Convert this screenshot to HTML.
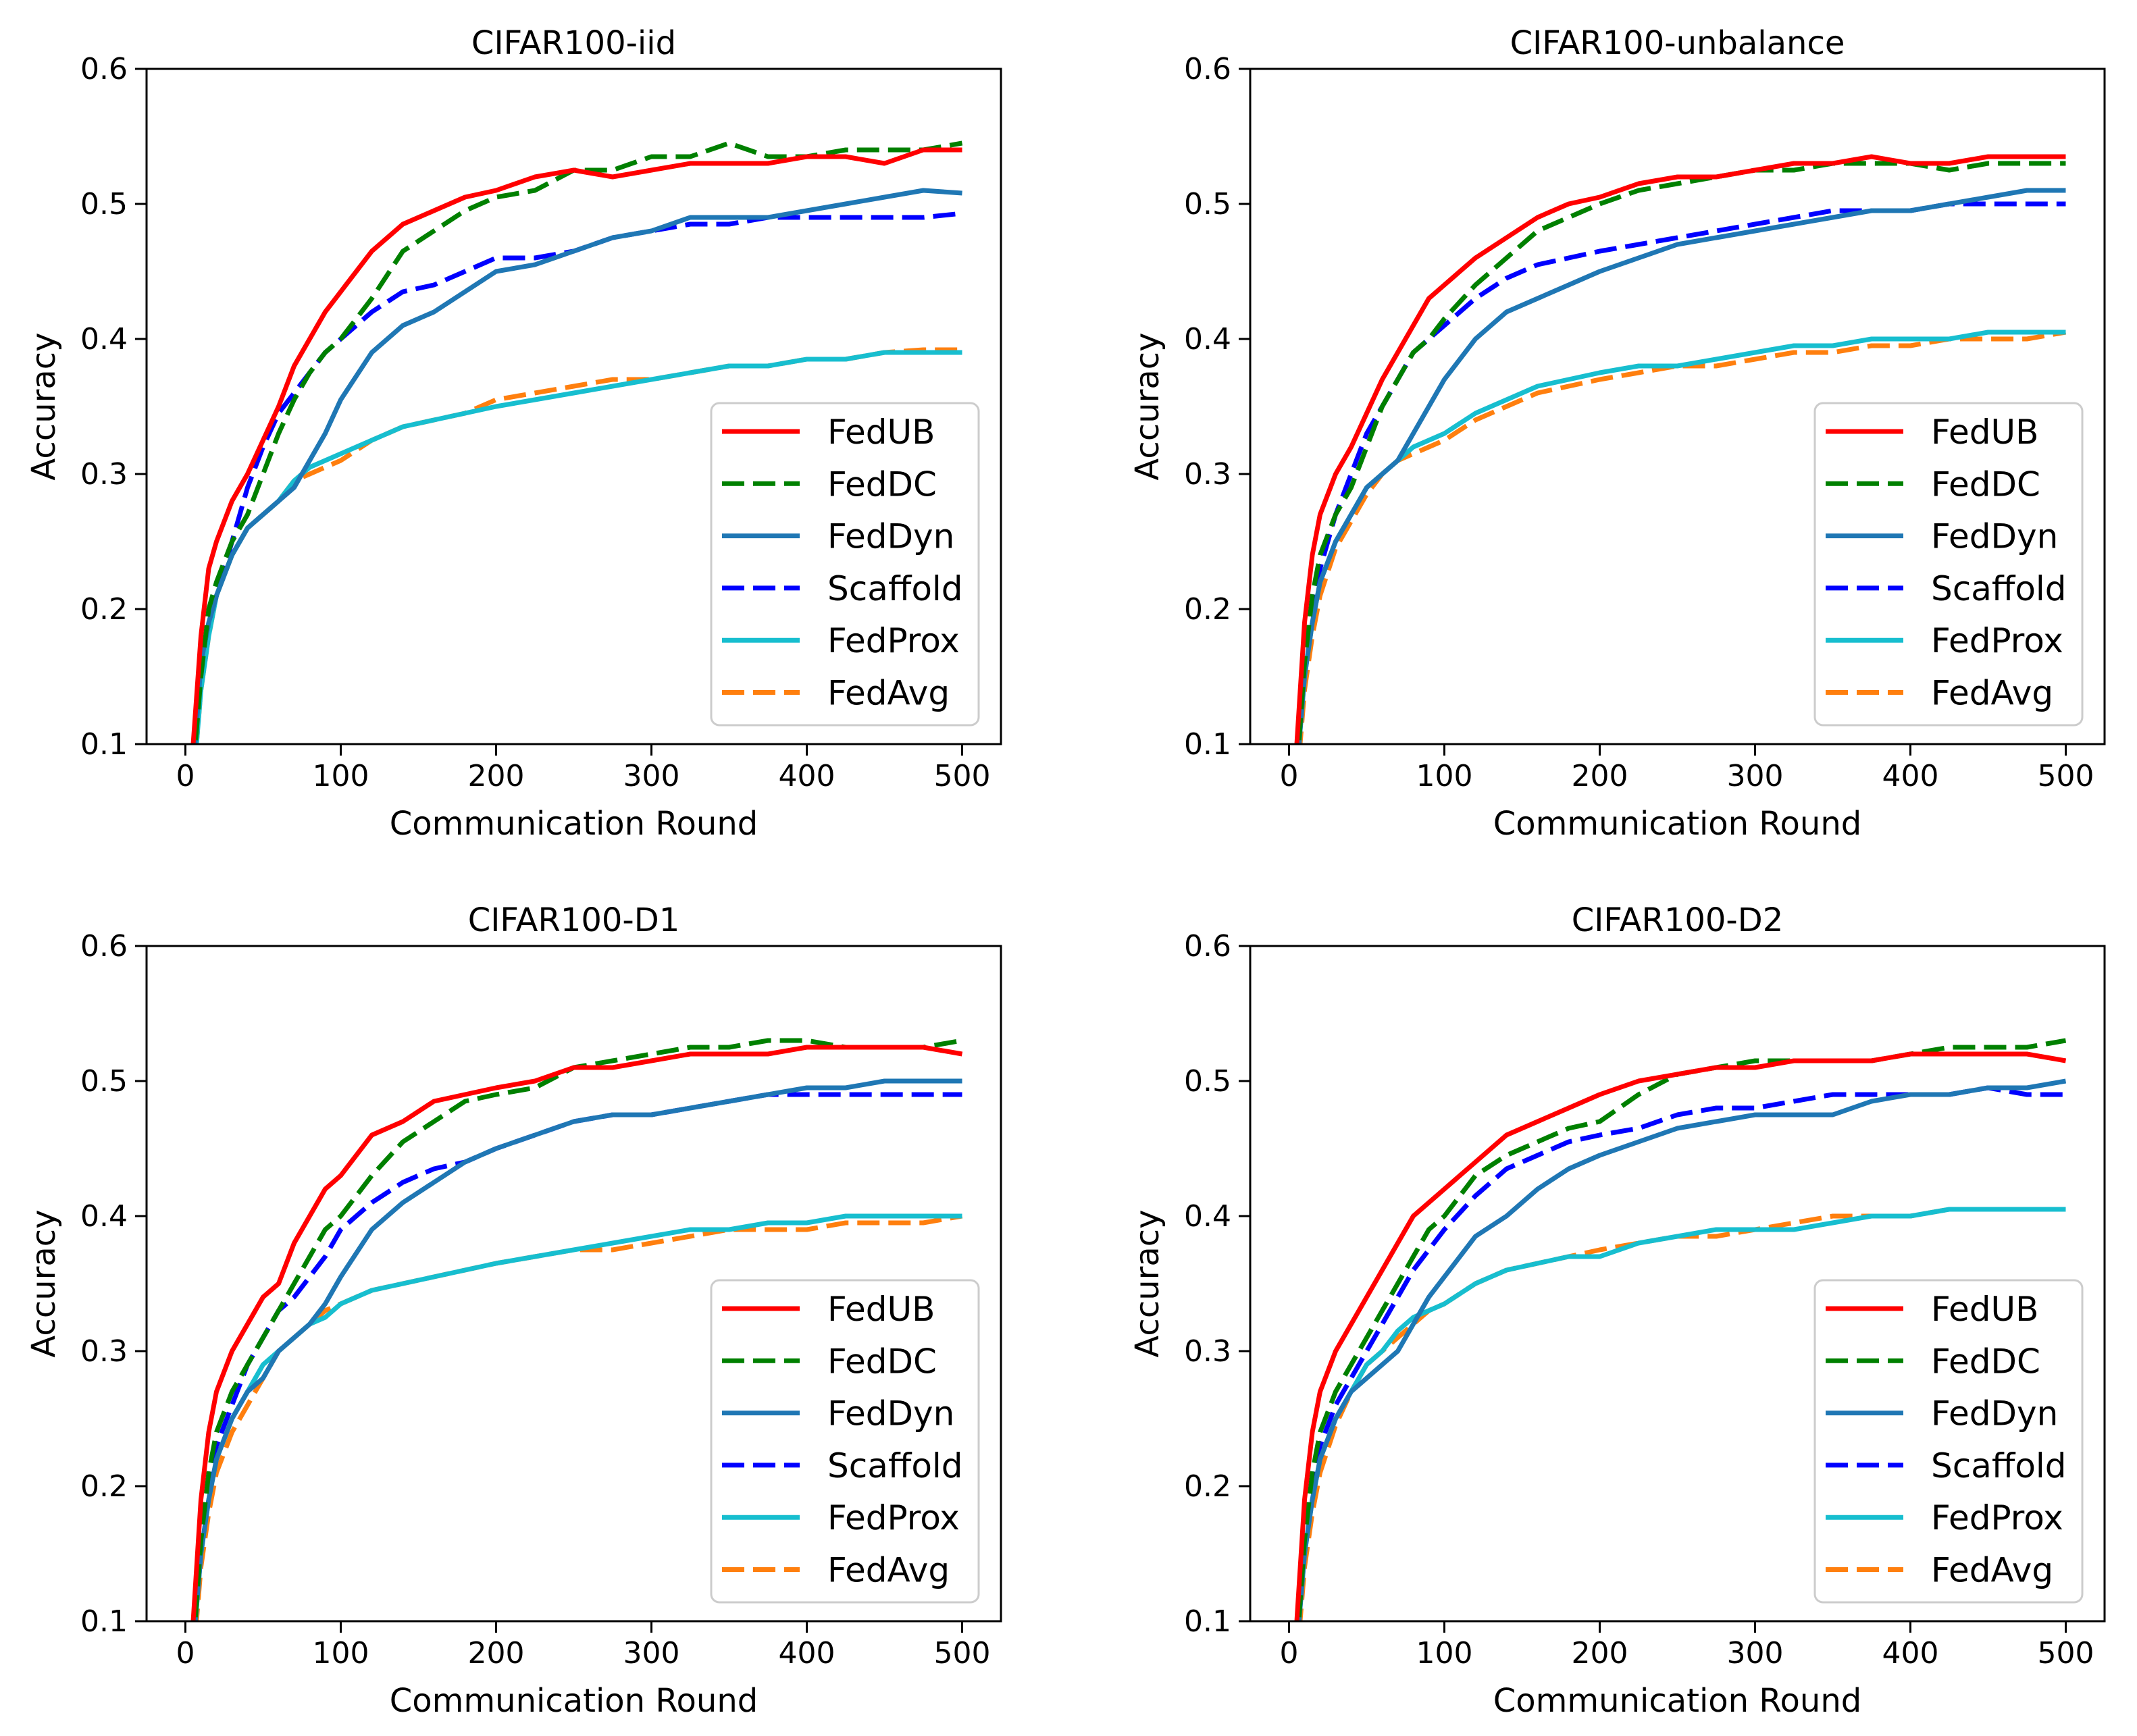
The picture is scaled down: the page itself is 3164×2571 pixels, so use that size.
<!DOCTYPE html>
<html><head><meta charset="utf-8"><style>
html,body{margin:0;padding:0;background:#fff;}
svg{display:block;font-family:"DejaVu Sans","Liberation Sans",sans-serif;}
</style></head><body>
<svg id="fig" width="3164" height="2571" viewBox="0 0 3164 2571" xmlns="http://www.w3.org/2000/svg"></svg>
<script>
const rounds=[5,10,15,20,30,40,50,60,70,80,90,100,120,140,160,180,200,225,250,275,300,325,350,375,400,425,450,475,500];
const seriesNames=["FedUB","FedDC","FedDyn","Scaffold","FedProx","FedAvg"];
const panelTitles=["CIFAR100-iid","CIFAR100-unbalance","CIFAR100-D1","CIFAR100-D2"];
const xTicks=[0,100,200,300,400,500];
const yTicks=[0.1,0.2,0.3,0.4,0.5,0.6];
// panel 1: iid
const iidFedUB=[.10,.18,.23,.25,.28,.30,.325,.35,.38,.40,.42,.435,.465,.485,.495,.505,.51,.52,.525,.52,.525,.53,.53,.53,.535,.535,.53,.54,.54];
const iidFedDC=[.08,.15,.20,.22,.25,.27,.30,.33,.355,.375,.39,.40,.43,.465,.48,.495,.505,.51,.525,.525,.535,.535,.545,.535,.535,.54,.54,.54,.545];
const iidFedDyn=[.08,.16,.19,.21,.24,.26,.27,.28,.29,.31,.33,.355,.39,.41,.42,.435,.45,.455,.465,.475,.48,.49,.49,.49,.495,.50,.505,.51,.508];
const iidScaffold=[.08,.16,.19,.21,.25,.29,.32,.345,.36,.375,.39,.40,.42,.435,.44,.45,.46,.46,.465,.475,.48,.485,.485,.49,.49,.49,.49,.49,.493];
const iidFedProx=[.07,.14,.18,.21,.24,.26,.27,.28,.295,.305,.31,.315,.325,.335,.34,.345,.35,.355,.36,.365,.37,.375,.38,.38,.385,.385,.39,.39,.39];
const iidFedAvg=[.07,.14,.18,.21,.24,.26,.27,.28,.295,.30,.305,.31,.325,.335,.34,.345,.355,.36,.365,.37,.37,.375,.38,.38,.385,.385,.39,.392,.392];
// panel 2: unbalance
const ubFedUB=[.10,.19,.24,.27,.30,.32,.345,.37,.39,.41,.43,.44,.46,.475,.49,.50,.505,.515,.52,.52,.525,.53,.53,.535,.53,.53,.535,.535,.535];
const ubFedDC=[.08,.16,.21,.24,.27,.29,.32,.35,.37,.39,.40,.415,.44,.46,.48,.49,.50,.51,.515,.52,.525,.525,.53,.53,.53,.525,.53,.53,.53];
const ubFedDyn=[.08,.15,.19,.22,.25,.27,.29,.30,.31,.33,.35,.37,.40,.42,.43,.44,.45,.46,.47,.475,.48,.485,.49,.495,.495,.50,.505,.51,.51];
const ubScaffold=[.08,.16,.20,.23,.27,.30,.33,.35,.37,.39,.40,.41,.43,.445,.455,.46,.465,.47,.475,.48,.485,.49,.495,.495,.495,.50,.50,.50,.50];
const ubFedProx=[.08,.15,.19,.22,.25,.27,.29,.30,.31,.32,.325,.33,.345,.355,.365,.37,.375,.38,.38,.385,.39,.395,.395,.40,.40,.40,.405,.405,.405];
const ubFedAvg=[.07,.14,.18,.21,.245,.265,.285,.30,.31,.315,.32,.325,.34,.35,.36,.365,.37,.375,.38,.38,.385,.39,.39,.395,.395,.40,.40,.40,.405];
// panel 3: D1
const d1FedUB=[.10,.19,.24,.27,.30,.32,.34,.35,.38,.40,.42,.43,.46,.47,.485,.49,.495,.50,.51,.51,.515,.52,.52,.52,.525,.525,.525,.525,.52];
const d1FedDC=[.08,.16,.21,.24,.27,.29,.31,.33,.35,.37,.39,.40,.43,.455,.47,.485,.49,.495,.51,.515,.52,.525,.525,.53,.53,.525,.525,.525,.53];
const d1FedDyn=[.08,.15,.19,.22,.25,.27,.28,.30,.31,.32,.335,.355,.39,.41,.425,.44,.45,.46,.47,.475,.475,.48,.485,.49,.495,.495,.50,.50,.50];
const d1Scaffold=[.08,.16,.20,.23,.26,.29,.31,.33,.34,.355,.37,.39,.41,.425,.435,.44,.45,.46,.47,.475,.475,.48,.485,.49,.49,.49,.49,.49,.49];
const d1FedProx=[.08,.15,.19,.22,.25,.27,.29,.30,.31,.32,.325,.335,.345,.35,.355,.36,.365,.37,.375,.38,.385,.39,.39,.395,.395,.40,.40,.40,.40];
const d1FedAvg=[.07,.14,.18,.21,.24,.26,.28,.30,.31,.32,.33,.335,.345,.35,.355,.36,.365,.37,.375,.375,.38,.385,.39,.39,.39,.395,.395,.395,.40];
// panel 4: D2
const d2FedUB=[.10,.19,.24,.27,.30,.32,.34,.36,.38,.40,.41,.42,.44,.46,.47,.48,.49,.50,.505,.51,.51,.515,.515,.515,.52,.52,.52,.52,.515];
const d2FedDC=[.08,.16,.21,.24,.27,.29,.31,.33,.35,.37,.39,.40,.43,.445,.455,.465,.47,.49,.505,.51,.515,.515,.515,.515,.52,.525,.525,.525,.53];
const d2FedDyn=[.08,.15,.19,.22,.25,.27,.28,.29,.30,.32,.34,.355,.385,.40,.42,.435,.445,.455,.465,.47,.475,.475,.475,.485,.49,.49,.495,.495,.50];
const d2Scaffold=[.08,.16,.20,.23,.26,.28,.30,.32,.34,.36,.375,.39,.415,.435,.445,.455,.46,.465,.475,.48,.48,.485,.49,.49,.49,.49,.495,.49,.49];
const d2FedProx=[.08,.15,.19,.22,.25,.27,.29,.30,.315,.325,.33,.335,.35,.36,.365,.37,.37,.38,.385,.39,.39,.39,.395,.40,.40,.405,.405,.405,.405];
const d2FedAvg=[.07,.14,.18,.21,.245,.27,.29,.30,.31,.32,.33,.335,.35,.36,.365,.37,.375,.38,.385,.385,.39,.395,.40,.40,.40,.405,.405,.405,.405];

const panelData=[
 [iidFedUB,iidFedDC,iidFedDyn,iidScaffold,iidFedProx,iidFedAvg],
 [ubFedUB,ubFedDC,ubFedDyn,ubScaffold,ubFedProx,ubFedAvg],
 [d1FedUB,d1FedDC,d1FedDyn,d1Scaffold,d1FedProx,d1FedAvg],
 [d2FedUB,d2FedDC,d2FedDyn,d2Scaffold,d2FedProx,d2FedAvg]];
const colors=["#ff0000","#008000","#1f77b4","#0000ff","#17becf","#ff7f0e"];
const dashed=[false,true,false,true,false,true];
const drawOrder=[5,4,3,2,1,0];

const NS="http://www.w3.org/2000/svg";
const svg=document.getElementById('fig');
function mk(tag,attrs,parent){const e=document.createElementNS(NS,tag);for(const k in attrs)e.setAttribute(k,attrs[k]);(parent||svg).appendChild(e);return e;}

const origins=[[217,102],[1851,102],[217,1401],[1851,1401]];
const W=1265,H=1000;
panelData.forEach((series,p)=>{
  const [ox,oy]=origins[p];
  const g=mk('g',{});
  
  
  const xs=v=>ox+(v+25)/550*W;
  const ys=v=>oy+H-(v-0.1)/0.5*H;
  const clipId='clip'+p;
  const cp=mk('clipPath',{id:clipId},g);mk('rect',{x:ox,y:oy,width:W,height:H},cp);
  drawOrder.forEach(si=>{
    const vals=series[si];
    const d=vals.map((v,i)=>(i?'L':'M')+xs(rounds[i]).toFixed(1)+' '+ys(v).toFixed(1)).join(' ');
    const path=mk('path',{d:d,fill:'none',stroke:colors[si],'stroke-width':7,'stroke-linejoin':'round','clip-path':'url(#'+clipId+')'},g);
    if(dashed[si])path.setAttribute('stroke-dasharray','33 13');
    
    
  });
  const frame=mk('rect',{x:ox,y:oy,width:W,height:H,fill:'none',stroke:'#000','stroke-width':3},g);
  
  
  xTicks.forEach(t=>{
    const x=xs(t);
    mk('line',{x1:x,y1:oy+H,x2:x,y2:oy+H+17,stroke:'#000','stroke-width':3},g);
    const tx=mk('text',{x:x,y:oy+H+62,'font-size':44,'text-anchor':'middle'},g);tx.textContent=t;
    
    
  });
  yTicks.forEach(t=>{
    const y=ys(t);
    mk('line',{x1:ox-17,y1:y,x2:ox,y2:y,stroke:'#000','stroke-width':3},g);
    const tx=mk('text',{x:ox-28,y:y+15,'font-size':44,'text-anchor':'end'},g);tx.textContent=t.toFixed(1);
    
    
  });
  const ti=mk('text',{x:ox+W/2,y:oy-22,'font-size':48,'text-anchor':'middle'},g);ti.textContent=panelTitles[p];
  
  
  const xl=mk('text',{x:ox+W/2,y:oy+H+134,'font-size':48,'text-anchor':'middle'},g);xl.textContent='Communication Round';
  
  
  const yl=mk('text',{x:0,y:0,'font-size':48,'text-anchor':'middle',transform:'translate('+(ox-136)+','+(oy+H/2)+') rotate(-90)'},g);yl.textContent='Accuracy';
  
  
  const lx=ox+836,ly=oy+495;
  const lg=mk('g',{},g);
  
  
  mk('rect',{x:lx,y:ly,width:396,height:477,rx:12,fill:'#fff','fill-opacity':0.85,stroke:'#ccc','stroke-width':3},lg);
  seriesNames.forEach((n,i)=>{
    const y=ly+42+i*77.3;
    const ln=mk('line',{x1:lx+16,y1:y,x2:lx+131,y2:y,stroke:colors[i],'stroke-width':7},lg);
    if(dashed[i])ln.setAttribute('stroke-dasharray','33 13');
    
    
    const tx=mk('text',{x:lx+172,y:y+18,'font-size':50},lg);tx.textContent=n;
    
    
  });
});
</script>
</body></html>
